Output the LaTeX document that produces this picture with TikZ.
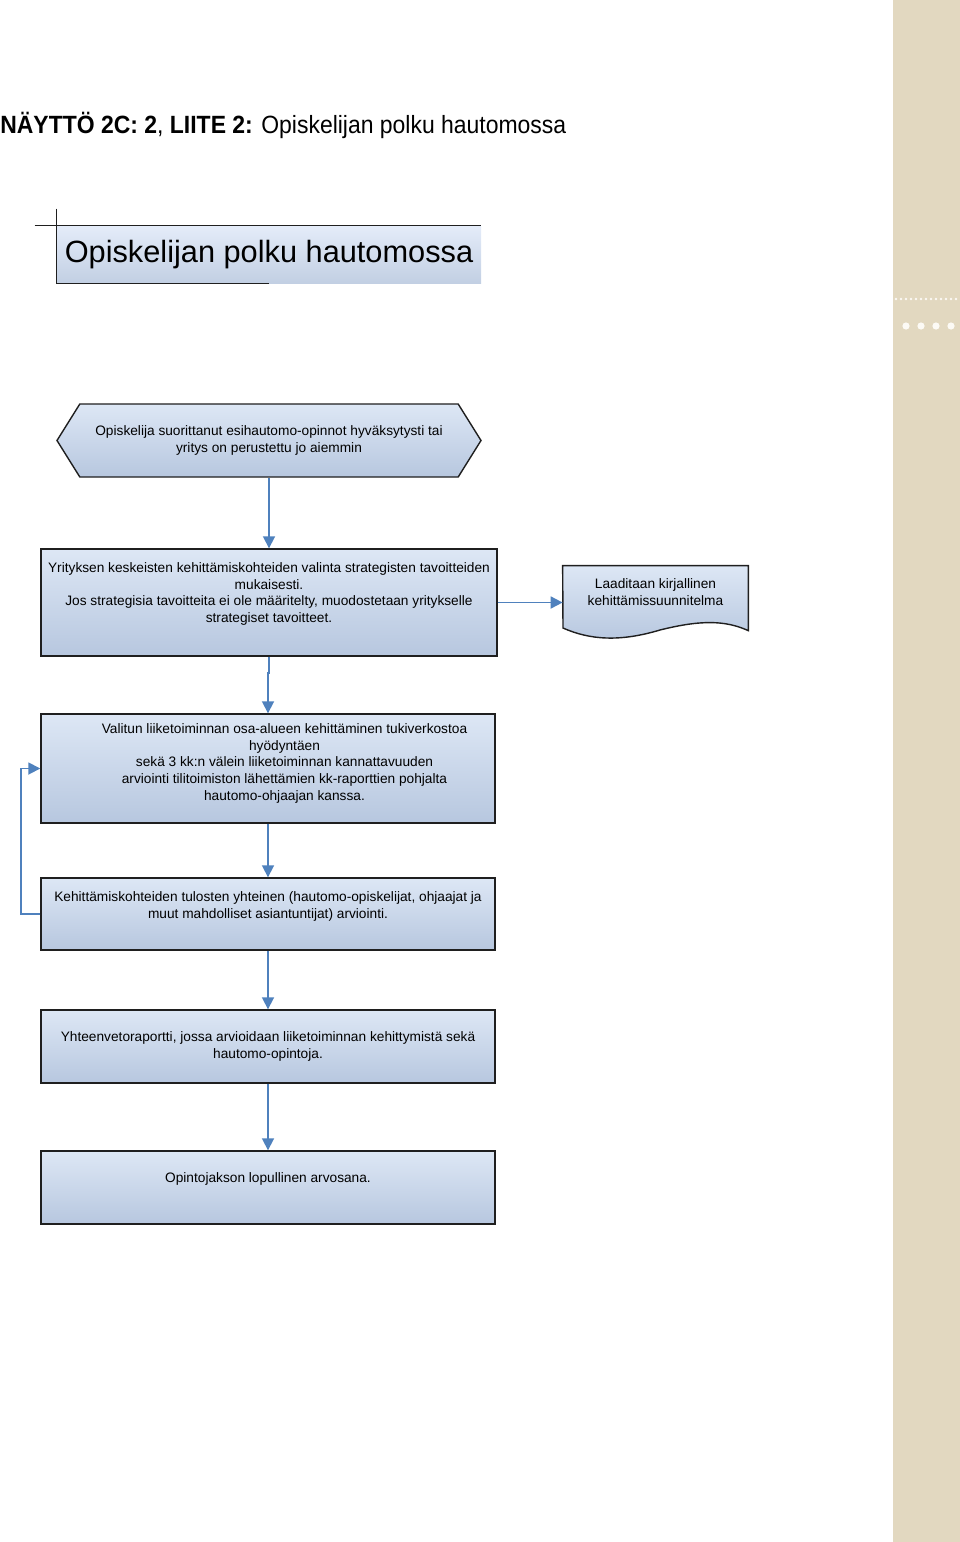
\documentclass[tikz,border=0pt]{standalone}
\usepackage{fontspec}
\setmainfont{Liberation Sans}
\newfontfamily\titlefont[FakeStretch=0.92]{Liberation Sans}
\usetikzlibrary{arrows.meta,positioning,shapes.symbols,backgrounds}
\definecolor{boxline}{HTML}{1F1F1F}
\definecolor{boxtop}{HTML}{DDE7F5}
\definecolor{boxbot}{HTML}{B7C7DF}
\definecolor{headtop}{HTML}{E4ECF9}
\definecolor{headbot}{HTML}{C2CFE3}
\definecolor{arrowblue}{HTML}{4F81BD}
\definecolor{strip}{HTML}{E2D8C0}
\definecolor{stripdot}{HTML}{FCFAF5}
\newcommand{\pxl}{0.02cm}
\newcommand{\boxfont}{\fontsize{7.8}{9.4}\selectfont}
% top-aligned text inside a box of given height, width and top padding (in px)
\newcommand{\toptxt}[4]{\parbox[c][\dimexpr\pxl*#1\relax][t]{\dimexpr\pxl*#2\relax}{\vspace*{\dimexpr\pxl*#3\relax}\centering#4\par}}

\begin{document}
\begin{tikzpicture}[
  x=0.02cm, y=-0.02cm,
  box/.style={draw=boxline, line width=0.8pt, top color=boxtop, bottom color=boxbot, inner sep=0pt, font=\boxfont},
  head/.style={top color=headtop, bottom color=headbot, inner sep=0pt, font=\fontsize{17.5}{20}\selectfont},
  headline/.style={draw=boxline, line width=0.75pt},
  doc/.style={draw=boxline, line width=0.8pt, top color=boxtop, bottom color=boxbot},
  arrow/.style={-{Triangle[length=2.4mm,width=2.4mm]}, draw=arrowblue, line width=1pt},
]
\useasboundingbox (0,0) rectangle (960,1542);
% --- side strip ---
\fill[strip] (893,0) rectangle (960,1542);
\foreach \x in {896,901,...,958} \fill[stripdot] (\x,299) circle (1.3);
\foreach \x in {906,921,936,951} \fill[stripdot] (\x,326) circle (3.6);
% --- titles ---
\node[anchor=west, inner sep=0pt, font=\titlefont\fontsize{14.2}{16}\selectfont] (otsikko) at (0,125)
  {\textbf{NÄYTTÖ 2C: 2}, \textbf{LIITE 2:} Opiskelijan polku hautomossa};
\node[head, minimum width=424*\pxl, minimum height=57*\pxl] (polku) at (269,254.5) {Opiskelijan polku hautomossa};
\draw[headline] ([xshift=-22*\pxl]polku.north west) -- (polku.north east);
\draw[headline] ([yshift=17*\pxl]polku.north west) -- (polku.south west) -- (polku.south);
% --- flow ---
\node[box, signal, signal to=west and east, signal pointer angle=116, align=center,
  minimum width=424*\pxl, minimum height=73*\pxl] (lahto) at (269,440.5)
  {Opiskelija suorittanut esihautomo-opinnot hyväksytysti tai\\ yritys on perustettu jo aiemmin};
\node[box] (valinta) at (269,602.5) {\toptxt{107}{456}{14}{Yrityksen keskeisten kehittämiskohteiden valinta strategisten tavoitteiden\\ mukaisesti.\\ Jos strategisia tavoitteita ei ole määritelty, muodostetaan yritykselle\\ strategiset tavoitteet.}};
\node[font=\boxfont, align=center, inner sep=0pt, minimum width=185*\pxl, minimum height=52*\pxl] (plan) at (655.5,592)
  {Laaditaan kirjallinen\\ kehittämissuunnitelma};
\node[box] (valittu) at (268,768.5) {\toptxt{109}{454}{10}{\leftskip=0.66cm plus 1fil Valitun liiketoiminnan osa-alueen kehittäminen tukiverkostoa\\ hyödyntäen\\ sekä 3 kk:n välein liiketoiminnan kannattavuuden\\ arviointi tilitoimiston lähettämien kk-raporttien pohjalta\\ hautomo-ohjaajan kanssa.}};
\node[box] (yht) at (268,914) {\toptxt{72}{454}{14}{Kehittämiskohteiden tulosten yhteinen (hautomo-opiskelijat, ohjaajat ja\\ muut mahdolliset asiantuntijat) arviointi.}};
\node[box] (raportti) at (268,1046.5) {\toptxt{73}{454}{22}{Yhteenvetoraportti, jossa arvioidaan liiketoiminnan kehittymistä sekä\\ hautomo-opintoja.}};
\node[box] (arvosana) at (268,1187.5) {\toptxt{73}{454}{22}{Opintojakson lopullinen arvosana.}};
% --- document shape behind the plan text ---
\begin{scope}[on background layer]
\path[doc] (plan.north west) -- (plan.north east) -- ++(0,65)
  .. controls (725,620) and (700,620) .. (660,630)
  .. controls (620,642) and (590,640) .. (563,628) -- cycle;
\end{scope}
% --- arrows ---
\draw[arrow] (lahto.south) -- (valinta.north);
\draw[arrow] (valinta.east) -- (valinta.east -| plan.west);
\draw[arrow] (valinta.south) -- ++(0,16) -| (valittu.north);
\draw[arrow] (valittu.south) -- (yht.north);
\draw[arrow] (yht.west) -- ++(-19,0) |- (valittu.west);
\draw[arrow] (yht.south) -- (raportti.north);
\draw[arrow] (raportti.south) -- (arvosana.north);
\end{tikzpicture}
\end{document}
